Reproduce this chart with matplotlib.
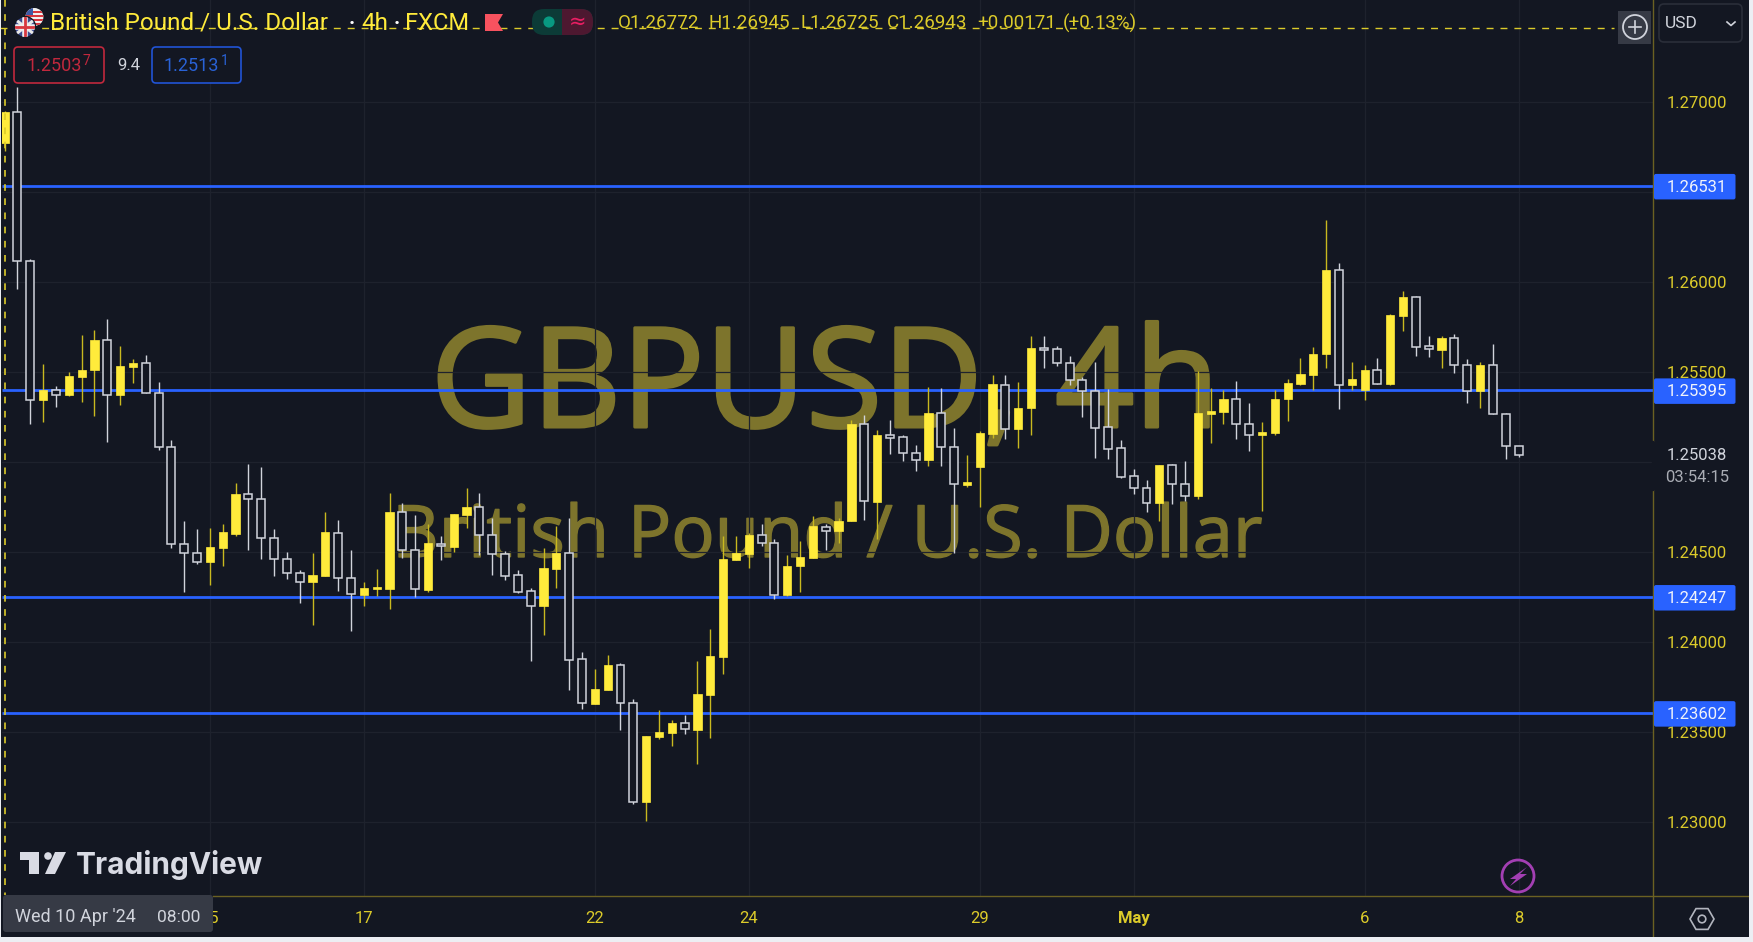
import numpy as np
import matplotlib
matplotlib.use("Agg")
import matplotlib.pyplot as plt
import matplotlib.patheffects as pe
from matplotlib.patches import Rectangle, Circle, Polygon, FancyBboxPatch, RegularPolygon

plt.rcParams['font.family'] = ['Roboto', 'DejaVu Sans']

# ── Data ──────────────────────────────────────────────────────────────────
open_ = [1.26772, 1.26943, 1.26113, 1.25339, 1.25400, 1.25370, 1.25470, 1.25506, 1.25674, 1.25370,
         1.25526, 1.25550, 1.25380, 1.25080, 1.24541, 1.24494, 1.24444, 1.24520, 1.24600, 1.24822,
         1.24794, 1.24576, 1.24461, 1.24380, 1.24330, 1.24363, 1.24604, 1.24352, 1.24261, 1.24294,
         1.24294, 1.24719, 1.24510, 1.24287, 1.24543, 1.24526, 1.24704, 1.24747, 1.24591, 1.24487,
         1.24367, 1.24278, 1.24200, 1.24404, 1.24489, 1.23902, 1.23654, 1.23730, 1.23871, 1.23658,
         1.23111, 1.23471, 1.23491, 1.23548, 1.23511, 1.23702, 1.23913, 1.24452, 1.24486, 1.24591,
         1.24548, 1.24259, 1.24417, 1.24465, 1.24637, 1.24615, 1.24669, 1.25209, 1.24776, 1.25150,
         1.25135, 1.25046, 1.25009, 1.25270, 1.25082, 1.24870, 1.24969, 1.25152, 1.25426, 1.25180,
         1.25295, 1.25632, 1.25626, 1.25550, 1.25454, 1.25393, 1.25189, 1.25074, 1.24917, 1.24854,
         1.24771, 1.24980, 1.24876, 1.24806, 1.25262, 1.25276, 1.25347, 1.25210, 1.25147, 1.25160,
         1.25345, 1.25432, 1.25480, 1.25595, 1.26062, 1.25425, 1.25399, 1.25510, 1.25430, 1.25806,
         1.25912, 1.25639, 1.25621, 1.25687, 1.25536, 1.25391, 1.25537, 1.25265, 1.25087]
high = [1.26945, 1.27082, 1.26125, 1.25544, 1.25422, 1.25498, 1.25702, 1.25728, 1.25791, 1.25641,
        1.25570, 1.25593, 1.25443, 1.25117, 1.24669, 1.24626, 1.24633, 1.24654, 1.24878, 1.24987,
        1.24967, 1.24626, 1.24496, 1.24396, 1.24489, 1.24720, 1.24674, 1.24511, 1.24333, 1.24402,
        1.24824, 1.24771, 1.24702, 1.24652, 1.24586, 1.24711, 1.24852, 1.24824, 1.24687, 1.24502,
        1.24395, 1.24298, 1.24517, 1.24639, 1.24687, 1.23939, 1.23850, 1.23926, 1.23878, 1.23682,
        1.23476, 1.23621, 1.23565, 1.23591, 1.23893, 1.24069, 1.24586, 1.24586, 1.24604, 1.24654,
        1.24571, 1.24483, 1.24558, 1.24700, 1.24652, 1.24687, 1.25232, 1.25258, 1.25176, 1.25232,
        1.25150, 1.25089, 1.25415, 1.25408, 1.25185, 1.25035, 1.25170, 1.25483, 1.25478, 1.25443,
        1.25696, 1.25696, 1.25641, 1.25585, 1.25470, 1.25552, 1.25402, 1.25122, 1.24959, 1.24900,
        1.24980, 1.24987, 1.25002, 1.25502, 1.25408, 1.25397, 1.25449, 1.25326, 1.25219, 1.25397,
        1.25456, 1.25573, 1.25634, 1.26341, 1.26104, 1.25552, 1.25537, 1.25573, 1.25817, 1.25947,
        1.25919, 1.25697, 1.25697, 1.25710, 1.25567, 1.25552, 1.25654, 1.25271, 1.25087]
low = [1.26725, 1.25956, 1.25206, 1.25220, 1.25302, 1.25363, 1.25330, 1.25254, 1.25111, 1.25315,
       1.25437, 1.25378, 1.25063, 1.24519, 1.24274, 1.24430, 1.24315, 1.24417, 1.24585, 1.24511,
       1.24459, 1.24363, 1.24348, 1.24213, 1.24091, 1.24363, 1.24281, 1.24056, 1.24198, 1.24254,
       1.24178, 1.24465, 1.24248, 1.24274, 1.24452, 1.24498, 1.24630, 1.24478, 1.24371, 1.24343,
       1.24267, 1.23893, 1.24036, 1.24300, 1.23730, 1.23623, 1.23654, 1.23730, 1.23511, 1.23097,
       1.23002, 1.23456, 1.23417, 1.23484, 1.23321, 1.23463, 1.23817, 1.24452, 1.24410, 1.24532,
       1.24234, 1.24252, 1.24274, 1.24465, 1.24506, 1.24546, 1.24669, 1.24676, 1.24572, 1.25043,
       1.25002, 1.24948, 1.24974, 1.24976, 1.24493, 1.24859, 1.24750, 1.25132, 1.25124, 1.25076,
       1.25150, 1.25519, 1.25533, 1.25424, 1.25248, 1.25022, 1.25015, 1.24906, 1.24817, 1.24722,
       1.24668, 1.24765, 1.24778, 1.24789, 1.25104, 1.25206, 1.25126, 1.25056, 1.24724, 1.25145,
       1.25226, 1.25425, 1.25399, 1.25519, 1.25293, 1.25399, 1.25343, 1.25432, 1.25425, 1.25723,
       1.25587, 1.25580, 1.25519, 1.25491, 1.25323, 1.25300, 1.25262, 1.25015, 1.25023]
close = [1.26943, 1.26113, 1.25339, 1.25400, 1.25370, 1.25476, 1.25511, 1.25674, 1.25370, 1.25531,
         1.25550, 1.25378, 1.25078, 1.24541, 1.24493, 1.24444, 1.24524, 1.24606, 1.24822, 1.24793,
         1.24576, 1.24459, 1.24378, 1.24330, 1.24367, 1.24606, 1.24352, 1.24263, 1.24298, 1.24302,
         1.24720, 1.24508, 1.24289, 1.24545, 1.24528, 1.24708, 1.24748, 1.24589, 1.24487, 1.24363,
         1.24274, 1.24200, 1.24408, 1.24491, 1.23900, 1.23656, 1.23734, 1.23871, 1.23656, 1.23111,
         1.23476, 1.23497, 1.23550, 1.23513, 1.23708, 1.23917, 1.24456, 1.24491, 1.24591, 1.24548,
         1.24261, 1.24420, 1.24469, 1.24639, 1.24615, 1.24672, 1.25211, 1.24778, 1.25150, 1.25132,
         1.25045, 1.25009, 1.25272, 1.25078, 1.24874, 1.24885, 1.25158, 1.25428, 1.25182, 1.25300,
         1.25633, 1.25622, 1.25546, 1.25452, 1.25393, 1.25187, 1.25070, 1.24915, 1.24854, 1.24772,
         1.24980, 1.24875, 1.24806, 1.25267, 1.25278, 1.25347, 1.25210, 1.25147, 1.25163, 1.25347,
         1.25437, 1.25484, 1.25599, 1.26063, 1.25426, 1.25456, 1.25510, 1.25432, 1.25812, 1.25913,
         1.25637, 1.25623, 1.25687, 1.25534, 1.25393, 1.25537, 1.25262, 1.25086, 1.25038]

levels = [1.26531, 1.25395, 1.24247, 1.23602]
# 1.265 and 1.250 have a grid line, their labels are covered by the tags in the original
price_ticks = [1.27, 1.265, 1.26, 1.255, 1.25, 1.245, 1.24, 1.235, 1.23]
price_labels = ["1.27000", "", "1.26000", "1.25500", "", "1.24500", "1.24000", "1.23500", "1.23000"]
date_pos = [16, 28, 46, 58, 76, 88, 106, 118]
date_labels = ["15", "17", "22", "24", "29", "May", "6", "8"]
ohlc_labels = ["O1.26772", "H1.26945", "L1.26725", "C1.26943", "+0.00171", "(+0.13%)"]

BG = '#131722'
YEL = '#ffeb3b'
DIM = '#dccb2a'
WHT = '#d1d4dc'
BLUE = '#2962ff'
OLIVE = '#6b6122'
WM = '#7d742c'

fig = plt.figure(figsize=(17.53, 9.42), dpi=100, facecolor=BG)

def pixel_axes(z):
    a = fig.add_axes([0, 0, 1, 1], zorder=z)
    a.set_xlim(0, 1753)
    a.set_ylim(942, 0)
    a.axis('off')
    return a

# ── Watermark layer (behind the candles) ──────────────────────────────────
back = pixel_axes(0)
t1 = back.text(825, 427, "GBPUSD, 4h", fontsize=100, color=WM, family='Open Sans', ha='center', va='baseline')
t1.set_path_effects([pe.withStroke(linewidth=2.2, foreground=WM)])
t2 = back.text(827, 557, "British Pound / U.S. Dollar", fontsize=52, color=WM, family='Open Sans', ha='center', va='baseline')
t2.set_path_effects([pe.withStroke(linewidth=1.0, foreground=WM)])

# ── Price chart ───────────────────────────────────────────────────────────
ax = fig.add_axes([2 / 1753, 46 / 942, 1651 / 1753, 896 / 942], zorder=1)
ax.patch.set_alpha(0)
ax.set_xlim(2 + (2 - 30.3) / 12.83, 2 + (1653 - 30.3) / 12.83)
ax.set_ylim(1.27 - (896 - 101.5) / 18000, 1.27 + 101.5 / 18000)
for s in ax.spines.values():
    s.set_visible(False)

ax.set_yticks(price_ticks, price_labels)
ax.yaxis.tick_right()
ax.set_xticks(date_pos, date_labels)
ax.tick_params(axis='y', length=0, pad=10, labelsize=12, labelcolor=DIM)
ax.tick_params(axis='x', length=0, pad=11, labelsize=12, labelcolor=DIM)
ax.get_xticklabels()[5].set_fontweight('bold')
ax.grid(True, color='#1e222d', linewidth=0.9, zorder=0)
ax.set_axisbelow(True)

x = np.arange(len(open_))
o, h, l, c = map(np.array, (open_, high, low, close))
up = c >= o

ax.hlines(levels, ax.get_xlim()[0], ax.get_xlim()[1], colors=BLUE, linewidth=2.0, zorder=2)

ax.vlines(x[up], l[up], h[up], colors='#c9b91f', linewidth=1.0, zorder=3)
ax.vlines(x[~up], l[~up], h[~up], colors=WHT, linewidth=1.0, zorder=3)
ax.bar(x[up], (c - o)[up], bottom=o[up], width=0.64, color=YEL, edgecolor=YEL, linewidth=0.5, zorder=4)
ax.bar(x[~up], (c - o)[~up], bottom=o[~up], width=0.62, color=BG, edgecolor=WHT, linewidth=1.1, zorder=4)

# ── Interface layer ───────────────────────────────────────────────────────
ui = pixel_axes(2)

def py(p):
    return 101.5 + (1.27 - p) * 18000

# crosshair
ui.plot([5, 5], [0, 895], color=DIM, lw=1.2, dashes=(4, 4.5), zorder=1)
ui.plot([0, 1614], [27.5, 27.5], color=DIM, lw=1.0, dashes=(5, 5), zorder=1)

# axis borders
ui.plot([1653.5, 1653.5], [0, 937], color=OLIVE, lw=1.0, zorder=1)
ui.plot([213, 1749], [896, 896], color=OLIVE, lw=1.0, zorder=1)

# level tags
for lev in levels:
    ui.add_patch(FancyBboxPatch((1654, py(lev) - 12), 81.5, 25.5, boxstyle="round,pad=0,rounding_size=2",
                                fc=BLUE, ec='none', zorder=3))
    ui.text(1667, py(lev) + 1.5, f"{lev:.5f}", color='#f0f3fa', fontsize=12, va='center', ha='left', zorder=4)

# last price + countdown
ui.add_patch(Rectangle((1654, 442), 90, 48, fc=BG, ec='none', zorder=2))
ui.plot([1653.5, 1653.5], [442, 490], color=BG, lw=1.6, zorder=2)
ui.text(1667, py(close[-1]) + 0.5, f"{close[-1]:.5f}", color=WHT, fontsize=12, va='center', zorder=3)
ui.text(1665, 477, "03:54:15", color='#a9acb4', fontsize=12, va='center', zorder=3)

# date tooltip
ui.add_patch(FancyBboxPatch((3, 895), 210, 37, boxstyle="round,pad=0,rounding_size=3", fc='#363a45', ec='none', zorder=3))
ui.text(15, 917, "Wed 10 Apr '24", color=WHT, fontsize=13, va='center', zorder=4)
ui.text(157, 917, "08:00", color=WHT, fontsize=12.5, va='center', zorder=4)

# title row
ui.add_patch(Circle((34.4, 17), 9, fc='#f1f1f1', ec='none', zorder=4))
us = Circle((34.4, 17), 9, transform=ui.transData)
for yy in (11, 15, 19, 23):
    ui.add_patch(Rectangle((24, yy), 21, 2, fc='#d8383f', ec='none', zorder=4, clip_path=us))
ui.add_patch(Rectangle((25, 8), 8, 7, fc='#3c5aa6', ec='none', zorder=4, clip_path=us))
uk = Circle((25, 27), 10, transform=ui.transData)
ui.add_patch(Circle((25, 27), 10.5, fc='#3b4a8f', ec=BG, lw=1.0, zorder=5))
ui.plot([16, 34], [20, 34], color='#e8e8e8', lw=2.2, zorder=5, clip_path=uk)
ui.plot([16, 34], [34, 20], color='#e8e8e8', lw=2.2, zorder=5, clip_path=uk)
ui.plot([15, 35], [27, 27], color='#efefef', lw=4, zorder=5, clip_path=uk)
ui.plot([25, 25], [17, 37], color='#efefef', lw=4, zorder=5, clip_path=uk)
ui.plot([15, 35], [27, 27], color='#d8383f', lw=2, zorder=5, clip_path=uk)
ui.plot([25, 25], [17, 37], color='#d8383f', lw=2, zorder=5, clip_path=uk)

ui.text(50, 23, "British Pound / U.S. Dollar", color=YEL, fontsize=17.5, va='center', zorder=4)
ui.text(352, 23, "·", color='#ffffff', fontsize=15, va='center', ha='center', weight='bold', zorder=4)
ui.text(361, 23, "4h", color=YEL, fontsize=17.5, va='center', zorder=4)
ui.text(397, 23, "·", color='#ffffff', fontsize=15, va='center', ha='center', weight='bold', zorder=4)
ui.text(405, 23, "FXCM", color=YEL, fontsize=17, va='center', zorder=4)

ui.add_patch(Polygon([(485, 14), (503, 14), (498, 22.5), (503, 31), (485, 31)], fc='#f7525f', ec='none', zorder=4))

ui.add_patch(FancyBboxPatch((532, 9), 61, 26, boxstyle="round,pad=0,rounding_size=12", fc='#0c3b37', ec='none', zorder=2))
right_half = FancyBboxPatch((532, 9), 61, 26, boxstyle="round,pad=0,rounding_size=12", fc='#4d1830', ec='none', zorder=2)
ui.add_patch(right_half)
right_half.set_clip_path(Rectangle((562.5, 0), 40, 50, transform=ui.transData))
ui.add_patch(Circle((549, 22), 5.6, fc='#089981', ec='none', zorder=4))
ui.text(578, 22, "≈", color='#e91e63', fontsize=15, ha='center', va='center', family='DejaVu Sans', zorder=4)

for lab, xp in zip(ohlc_labels, [618, 709, 801, 887, 977, 1063]):
    ui.text(xp, 23, lab, color=DIM, fontsize=13.5, va='center', zorder=4)

# bid / ask boxes
ui.add_patch(FancyBboxPatch((14, 47), 90, 36, boxstyle="round,pad=0,rounding_size=4", fc=BG, ec='#c1283d', lw=1.2, zorder=3))
ui.text(27, 66, "1.2503", color='#c1283d', fontsize=13, va='center', zorder=4)
ui.text(83, 61, "7", color='#c1283d', fontsize=10, va='center', zorder=4)
ui.text(117, 65, "9.4", color=WHT, fontsize=12, va='center', zorder=4)
ui.add_patch(FancyBboxPatch((152, 47), 89, 36, boxstyle="round,pad=0,rounding_size=4", fc=BG, ec='#2154d6', lw=1.2, zorder=3))
ui.text(164, 66, "1.2513", color='#2962d6', fontsize=13, va='center', zorder=4)
ui.text(221, 61, "1", color='#2962d6', fontsize=10, va='center', zorder=4)

# plus button and currency selector
ui.add_patch(Rectangle((1618, 11), 33.5, 33, fc='#363a45', ec='none', zorder=3))
ui.add_patch(Circle((1635, 27), 12, fc='none', ec=WHT, lw=1.3, zorder=4))
ui.plot([1629, 1641], [27, 27], color=WHT, lw=1.2, zorder=4)
ui.plot([1635, 1635], [21, 33], color=WHT, lw=1.2, zorder=4)
ui.add_patch(FancyBboxPatch((1659, 4), 83, 38, boxstyle="round,pad=0,rounding_size=5", fc=BG, ec='#2a2e39', lw=1.2, zorder=3))
ui.text(1665, 24, "USD", color=WHT, fontsize=12.5, va='center', zorder=4)
ui.plot([1727, 1731, 1735], [22, 25.5, 22], color=WHT, lw=1.2, zorder=4)

# TradingView logo
LOGO = '#d9dbe4'
ui.add_patch(Polygon([(20, 852), (39, 852), (39, 874), (29, 874), (29, 860), (20, 860)], fc=LOGO, ec='none', zorder=4))
ui.add_patch(Circle((48, 856), 3.8, fc=LOGO, ec='none', zorder=4))
ui.add_patch(Polygon([(55, 852), (66, 852), (55, 874), (45, 874)], fc=LOGO, ec='none', zorder=4))
ui.text(76, 874, "TradingView", color=LOGO, fontsize=21.5, family='Inter', weight='bold', va='baseline', zorder=4)

# lightning badge and settings hexagon
ui.add_patch(Circle((1518, 876), 16, fc='none', ec='#a33fb3', lw=2.0, zorder=4))
ui.add_patch(Polygon([(1527, 867), (1510, 879), (1516, 879), (1510, 886), (1527, 874), (1520, 874)], fc='#a33fb3', ec='none', zorder=4))
ui.add_patch(RegularPolygon((1702, 919), 6, radius=12, orientation=np.pi / 2, fc='none', ec='#b2b5be', lw=1.2, zorder=4))
ui.add_patch(Circle((1702, 919), 3.8, fc='none', ec='#b2b5be', lw=1.2, zorder=4))

# window edges
ui.add_patch(Rectangle((0, 937), 1753, 5, fc='#eceef3', ec='none', zorder=6))
ui.add_patch(Rectangle((1749, 0), 4, 942, fc='#eceef3', ec='none', zorder=6))
ui.add_patch(Rectangle((0, 0), 1.5, 942, fc='#eceef3', ec='none', zorder=6))

fig.savefig("out.png", dpi=100, facecolor=BG)
